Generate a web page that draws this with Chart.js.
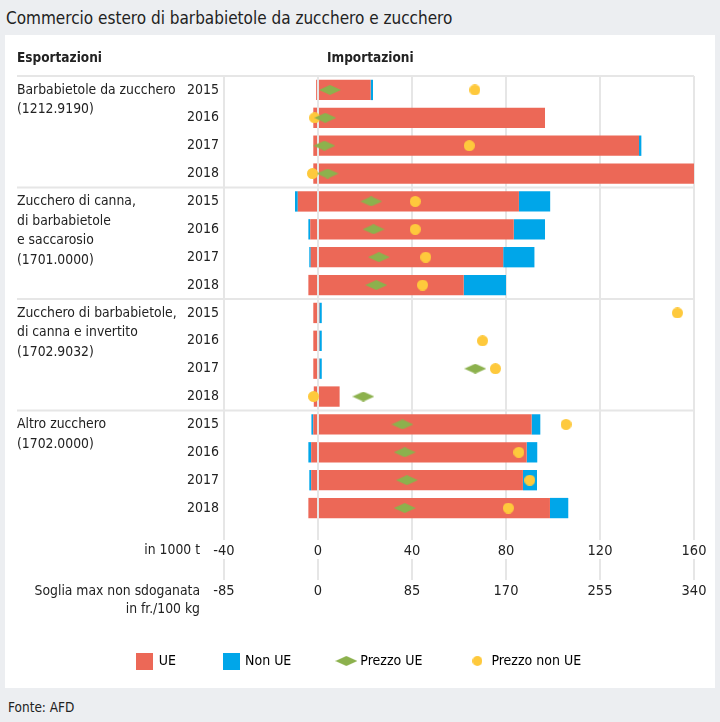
<!DOCTYPE html>
<html>
<head>
<meta charset="utf-8">
<script src="https://cdn.jsdelivr.net/npm/chart.js@4.4.1/dist/chart.umd.min.js"></script>
<style>
  body { margin: 0; width: 720px; height: 722px; background: #eceef1; color: #222;
         font-family: "Liberation Sans Narrow", "DejaVu Sans Condensed", sans-serif;
         position: relative; overflow: hidden; }
  #title { position: absolute; left: 6px; top: 8px; font-size: 17px; }
  #panel { position: absolute; left: 5px; top: 35px; width: 710px; height: 653px; background: #fff; }
  #source { position: absolute; left: 8px; top: 699px; font-size: 13.5px; }
</style>
</head>
<body>
<div id="title">Commercio estero di barbabietole da zucchero e zucchero</div>
<div id="panel"><canvas id="chart" width="710" height="653"></canvas></div>
<div id="source">Fonte: AFD</div>
<script>
// Data (1000 t, prices in fr./100 kg)
const years = ["2015", "2016", "2017", "2018", "2015", "2016", "2017", "2018",
               "2015", "2016", "2017", "2018", "2015", "2016", "2017", "2018"];
const groupLabels = [
    ["Barbabietole da zucchero", "(1212.9190)"],
    ["Zucchero di canna,", "di barbabietole", "e saccarosio", "(1701.0000)"],
    ["Zucchero di barbabietole,", "di canna e invertito", "(1702.9032)"],
    ["Altro zucchero", "(1702.0000)"]
];
const importUE = [22.4, 96.6, 136.6, 160, 85.5, 83.3, 78.8, 62.0, 0.6, 0.6, 0.6, 9.2, 90.9, 88.8, 87.2, 98.7];
const importNonUE = [1.0, 0, 1.0, 0, 13.3, 13.3, 13.3, 18.0, 1.0, 1.0, 1.0, 0, 3.7, 4.5, 6.0, 7.8];
const exportUE = [-0.8, -2.0, -2.0, -2.0, -8.6, -3.3, -3.1, -4.1, -2.0, -2.0, -2.0, -1.8, -2.0, -2.9, -2.9, -4.1];
const exportNonUE = [0, 0, 0, 0, -1.2, -0.8, -0.6, 0, 0, 0, 0, 0, -0.8, -1.2, -0.8, 0];
const priceUE = [10.8, 6.6, 5.8, 8.7, 48.1, 50.2, 55.1, 52.7, null, null, 142.2, 41.0, 76.3, 78.4, 80.4, 78.4];
const priceNonUE = [141.8, -3, 136.8, -5, 87.9, 87.9, 97.4, 94.5, 325, 148.8, 160.4, -4, 224.3, 181.6, 191.5, 172.1];

const RED = "#ec6857";
const BLUE = "#00a6e9";
const GREEN = "#8cb14d";
const YELLOW = "#fec93c";
const FONT = '"Liberation Sans Narrow", "DejaVu Sans Condensed", sans-serif';
const FS = 14.5;
const LABEL_FS = 13.8;

Chart.defaults.font.family = FONT;
Chart.defaults.font.size = FS;
Chart.defaults.color = "#222";

// small canvases used as marker shapes
function makeMarker(w, h, color, shape) {
    let c = document.createElement("canvas");
    c.width = w;
    c.height = h;
    let g = c.getContext("2d");
    g.fillStyle = color;
    g.beginPath();
    if (shape === "diamond") {
        g.moveTo(0, h / 2);
        g.lineTo(w / 2, 0);
        g.lineTo(w, h / 2);
        g.lineTo(w / 2, h);
        g.closePath();
    } else if (shape === "circle") {
        g.ellipse(w / 2, h / 2, w / 2, h / 2, 0, 0, Math.PI * 2);
    } else {
        g.rect(0, 0, w, h);
    }
    g.fill();
    return c;
}
const diamond = makeMarker(22, 10, GREEN, "diamond");
const dot = makeMarker(11, 11, YELLOW, "circle");
const legendMarks = [
    { text: "UE", color: RED, style: makeMarker(17, 17, RED, "rect") },
    { text: "Non UE", color: BLUE, style: makeMarker(17, 17, BLUE, "rect") },
    { text: "Prezzo UE", color: GREEN, style: makeMarker(22, 10, GREEN, "diamond") },
    { text: "Prezzo non UE", color: YELLOW, style: makeMarker(10, 10, YELLOW, "circle") }
];

//  Headers, group names, separators and axis captions
const extraText = {
    id: "extraText",
    afterDraw(chart) {
        let ctx = chart.ctx;
        let area = chart.chartArea;
        let x = chart.scales.x, y = chart.scales.y, x2 = chart.scales.x2;
        let left = 12;
        ctx.save();

        ctx.strokeStyle = "#e6e6e6";
        ctx.lineWidth = 2;
        let lineYs = [area.top];
        for (let g = 1; g < groupLabels.length; g++) {
            lineYs.push((y.getPixelForValue(g * 4 - 1) + y.getPixelForValue(g * 4)) / 2);
        }
        lineYs.forEach(ly => {
            ctx.beginPath();
            ctx.moveTo(left, ly);
            ctx.lineTo(area.right, ly);
            ctx.stroke();
        });

        ctx.fillStyle = "#222";
        ctx.textBaseline = "middle";
        ctx.textAlign = "left";
        ctx.font = "bold 13.5px " + FONT;
        ctx.fillText("Esportazioni", left, area.top - 18);
        ctx.fillText("Importazioni", x.getPixelForValue(0) + 9, area.top - 18);

        ctx.font = LABEL_FS + "px " + FONT;
        groupLabels.forEach((lines, g) => {
            let y0 = y.getPixelForValue(g * 4);
            lines.forEach((t, i) => ctx.fillText(t, left, y0 + i * 19.5));
        });

        ctx.textAlign = "right";
        ctx.fillText("in 1000 t", 195, x.top + 28);
        ctx.fillText("Soglia max non sdoganata", 195, x2.top + 32);
        ctx.fillText("in fr./100 kg", 195, x2.top + 50);
        ctx.restore();
    }
};

new Chart(document.getElementById("chart"), {
    type: "bar",
    data: {
        labels: years,
        datasets: [
            { label: "UE", data: importUE, backgroundColor: RED, order: 1 },
            { label: "Non UE", data: importNonUE, backgroundColor: BLUE, order: 1 },
            { label: "UE export", data: exportUE, backgroundColor: RED, order: 1 },
            { label: "Non UE export", data: exportNonUE, backgroundColor: BLUE, order: 1 },
            {
                type: "line", label: "Prezzo UE", data: priceUE, indexAxis: "y",
                xAxisID: "x2", yAxisID: "y", showLine: false,
                pointStyle: diamond, pointRadius: 5, order: 0
            },
            {
                type: "line", label: "Prezzo non UE", data: priceNonUE, indexAxis: "y",
                xAxisID: "x2", yAxisID: "y", showLine: false,
                pointStyle: dot, pointRadius: 5, order: 0
            }
        ]
    },
    options: {
        indexAxis: "y",
        responsive: false,
        animation: false,
        barPercentage: 0.73,
        categoryPercentage: 1,
        layout: { padding: { top: 41, right: 21, bottom: 10, left: 20 } },
        scales: {
            y: {
                stacked: true,
                grid: { display: false, drawTicks: false },
                border: { display: false },
                ticks: { padding: 5, color: "#222", font: { size: 14 } },
                afterFit: s => { s.width = 199; }
            },
            x: {
                stacked: true,
                position: "bottom",
                min: -40,
                max: 160,
                border: { display: false },
                grid: { color: "#e6e6e6", lineWidth: 2, tickLength: 18 },
                ticks: { stepSize: 40, padding: 3, color: "#222" },
                afterFit: s => { s.height = 37; }
            },
            x2: {
                type: "linear",
                position: "bottom",
                min: -85,
                max: 340,
                border: { display: false },
                grid: { drawOnChartArea: false, color: "#e6e6e6", lineWidth: 2, tickLength: 21 },
                ticks: { stepSize: 85, padding: 3, color: "#222" },
                afterFit: s => { s.height = 47; }
            }
        },
        plugins: {
            tooltip: { enabled: false },
            legend: {
                position: "bottom",
                labels: {
                    usePointStyle: true,
                    boxWidth: 17,
                    boxHeight: 16,
                    padding: 48,
                    color: "#222",
                    font: { size: 14 },
                    generateLabels: () => legendMarks.map((m, i) => ({
                        text: m.text,
                        fillStyle: m.color,
                        strokeStyle: m.color,
                        lineWidth: 0,
                        pointStyle: m.style,
                        hidden: false,
                        datasetIndex: i
                    }))
                }
            }
        }
    },
    plugins: [extraText]
});
</script>
</body>
</html>
